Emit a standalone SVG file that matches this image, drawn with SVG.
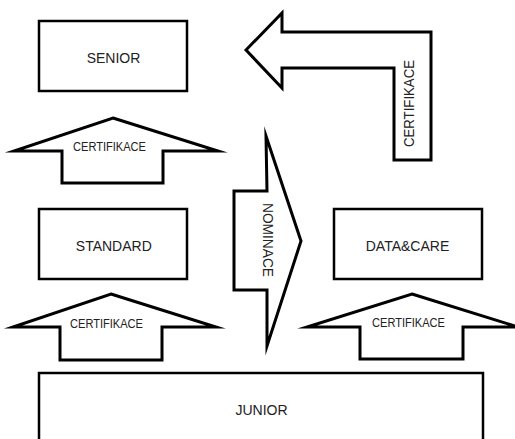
<svg xmlns="http://www.w3.org/2000/svg" width="515" height="439" viewBox="0 0 515 439">
  <style>
    .box { fill: #ffffff; stroke: #000000; stroke-width: 2.5; }
    .arrow { fill: #ffffff; stroke: #000000; stroke-width: 3; stroke-linejoin: miter; stroke-miterlimit: 20; }
    .lbl { font-family: "Liberation Sans", Arial, sans-serif; font-size: 14px; fill: #222222; text-anchor: middle; }
    .albl { font-family: "Liberation Sans", Arial, sans-serif; font-size: 12px; fill: #222222; text-anchor: middle; }
    .vlbl { font-family: "Liberation Sans", Arial, sans-serif; font-size: 14px; fill: #222222; text-anchor: middle; }
  </style>
  <rect x="0" y="0" width="515" height="439" fill="#ffffff"/>

  <g id="connectors">
    <g id="arrow-cert-senior">
      <polygon class="arrow" points="113,118 218,151 163,151 163,183 62,183 62,151 14,151"/>
      <text class="albl" x="109.5" y="151" textLength="73" lengthAdjust="spacingAndGlyphs">CERTIFIKACE</text>
    </g>
    <g id="arrow-cert-standard">
      <polygon class="arrow" points="111,294 216,327 162,327 162,360 60,360 60,327 13,327"/>
      <text class="albl" x="106.5" y="327.5" textLength="73" lengthAdjust="spacingAndGlyphs">CERTIFIKACE</text>
    </g>
    <g id="arrow-cert-datacare">
      <polygon class="arrow" points="412,294 518,327 463,327 463,359 360,359 360,327 307,327"/>
      <text class="albl" x="408.5" y="326.5" textLength="73" lengthAdjust="spacingAndGlyphs">CERTIFIKACE</text>
    </g>
    <g id="arrow-nominace">
      <polygon class="arrow" points="266,136 301,241 267,346 267,290 234,290 234,191 267,191"/>
      <text class="vlbl" transform="translate(263,240) rotate(90)" x="0" y="0" textLength="74" lengthAdjust="spacingAndGlyphs">NOMINACE</text>
    </g>
    <g id="arrow-cert-bent">
      <polygon class="arrow" points="246,50 282,13 282,32 431,32 431,160 394,160 394,68 282,68 282,88"/>
      <text class="vlbl" transform="translate(414,103.5) rotate(-90)" x="0" y="0" textLength="87" lengthAdjust="spacingAndGlyphs">CERTIFIKACE</text>
    </g>
  </g>

  <g id="senior">
    <rect class="box" x="39" y="21" width="148" height="70"/>
    <text class="lbl" x="113.5" y="62.5">SENIOR</text>
  </g>
  <g id="standard">
    <rect class="box" x="39" y="209" width="148" height="70"/>
    <text class="lbl" x="113.8" y="251">STANDARD</text>
  </g>
  <g id="datacare">
    <rect class="box" x="334" y="209" width="148" height="70"/>
    <text class="lbl" x="407.5" y="250.5">DATA&amp;CARE</text>
  </g>
  <g id="junior">
    <rect class="box" x="39" y="373" width="444" height="80"/>
    <text class="lbl" x="261.5" y="415">JUNIOR</text>
  </g>
</svg>
